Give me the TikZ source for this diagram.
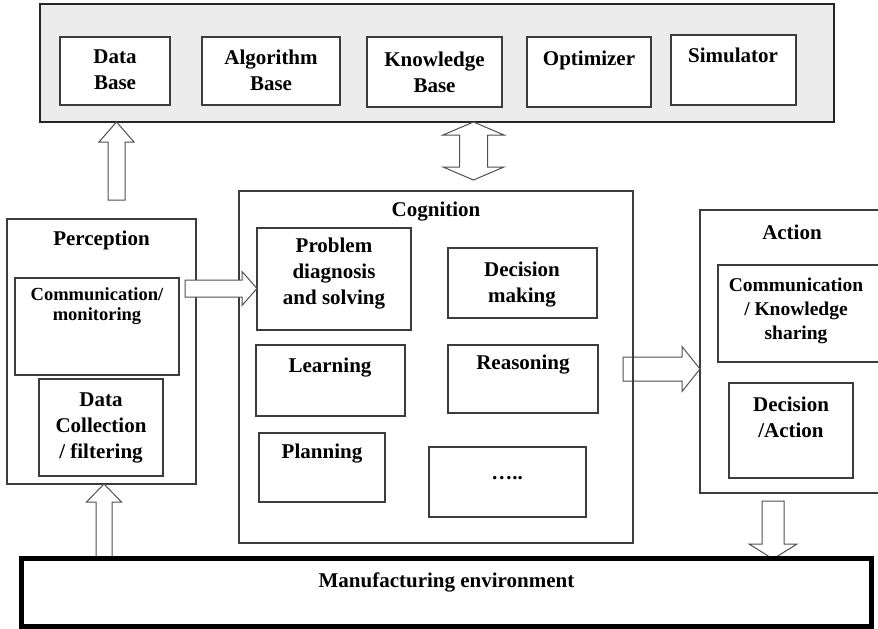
\documentclass[tikz,border=0pt]{standalone}
\usepackage{fontspec}
\setmainfont{Liberation Serif}
\usetikzlibrary{calc,fit}

\definecolor{boxline}{HTML}{3C3C3C}
\definecolor{arrowline}{HTML}{505050}
\definecolor{panel}{HTML}{ECECEC}

\tikzset{
  box/.style={draw=boxline, line width=1.1pt, inner sep=0pt, outer sep=0pt},
  whitebox/.style={box, fill=white},
  panelbox/.style={draw=black!85, line width=1.4pt, fill=panel, inner sep=0pt, outer sep=0pt},
  envbox/.style={draw=black, line width=5pt, inner sep=0pt, outer sep=0pt},
  lbl/.style={font=\bfseries\fontsize{21}{26}\selectfont, align=center, inner sep=0pt},
  smalllbl/.style={font=\bfseries\fontsize{18.5}{20}\selectfont, align=center, inner sep=0pt},
  midlbl/.style={font=\bfseries\fontsize{19.5}{24}\selectfont, align=center, inner sep=0pt},
  barrow/.style={draw=arrowline, line width=1pt, fill=white, line join=miter},
}

% rectangle node spanned by two corners: [style] name x1 y1 x2 y2
\newcommand\bx[6][box]{\node[#1, fit={(#3,#4) (#5,#6)}] (#2) {};}

% hollow block arrow: start, tip, shaft half width, head half width, head length
\newcommand\blockarrow[5]{%
  \coordinate (ba-h) at ($(#2)!#5!(#1)$);
  \draw[barrow] ($(#1)!#3!90:(#2)$) -- ($(ba-h)!#3!90:(#2)$) -- ($(ba-h)!#4!90:(#2)$)
    -- (#2) -- ($(ba-h)!#4!-90:(#2)$) -- ($(ba-h)!#3!-90:(#2)$) -- ($(#1)!#3!-90:(#2)$) -- cycle;}

% hollow block arrow with a head at both ends
\newcommand\dblockarrow[5]{%
  \coordinate (ba-h1) at ($(#1)!#5!(#2)$);
  \coordinate (ba-h2) at ($(#2)!#5!(#1)$);
  \draw[barrow] (#1) -- ($(ba-h1)!#4!90:(#2)$) -- ($(ba-h1)!#3!90:(#2)$)
    -- ($(ba-h2)!#3!90:(#2)$) -- ($(ba-h2)!#4!90:(#2)$) -- (#2)
    -- ($(ba-h2)!#4!-90:(#2)$) -- ($(ba-h2)!#3!-90:(#2)$)
    -- ($(ba-h1)!#3!-90:(#2)$) -- ($(ba-h1)!#4!-90:(#2)$) -- cycle;}

\begin{document}
\begin{tikzpicture}[x=1pt, y=-1pt]
\useasboundingbox (0,0) rectangle (878,629);
\clip (0,0) rectangle (878,629);

% ---- repository panel ----
\bx[panelbox]{bar}{40}{4}{834}{122}
\bx[whitebox]{db}{60}{37}{170}{105}
\bx[whitebox]{ab}{202}{37}{340}{105}
\bx[whitebox]{kb}{367}{37}{502}{107}
\bx[whitebox]{opt}{527}{37}{651}{107}
\bx[whitebox]{sim}{671}{35}{796}{105}
\node[lbl] (db-t)  at (115,70)  {Data\\Base};
\node[lbl] (ab-t)  at (271,70)  {Algorithm\\Base};
\node[lbl] (kb-t)  at (434.5,72) {Knowledge\\Base};
\node[lbl] (opt-t) at (589,60)  {Optimizer};
\node[lbl] (sim-t) at (733,55)  {Simulator};

% ---- connectors ----
\path (116.5,200) coordinate (a1s) (a1s |- bar.south) coordinate (a1e);
\blockarrow{a1s}{a1e}{8.5pt}{17.5pt}{20pt}

\path (473.5,0) coordinate (a2x) (a2x |- bar.south) coordinate (a2a) (473.5,180) coordinate (a2b);
\dblockarrow{a2a}{a2b}{14pt}{30.5pt}{13pt}

% ---- perception ----
\bx{percep}{7}{219}{196}{484}
\bx{comm}{15}{278}{179}{375}
\bx{dcol}{39}{379}{163}{476}
\node[lbl] (percep-t) at (101.5,240) {Perception};
\node[smalllbl] (comm-t) at (97,306) {Communication/\\monitoring};
\node[lbl] (dcol-t) at (101,428) {Data\\Collection\\/ filtering};

% ---- cognition ----
\path (623,369) coordinate (a4s);
\bx{act}{700}{210}{890}{493}
\path (a4s -| act.west) coordinate (a4e);
\blockarrow{a4s}{a4e}{12pt}{22.5pt}{18pt}

\bx{cog}{239}{191}{633}{543}
\bx{prob}{257}{228}{411}{330}
\bx{dec}{448}{248}{597}{318}
\bx{learn}{256}{345}{405}{416}
\bx{reas}{448}{345}{598}{413}
\bx{plan}{259}{433}{385}{502}
\bx{more}{429}{447}{586}{517}
\node[lbl] (cog-t)   at (436,212) {Cognition};
\node[lbl] (prob-t)  at (334,274) {Problem\\diagnosis\\and solving};
\node[lbl] (dec-t)   at (522,285) {Decision\\making};
\node[lbl] (learn-t) at (330,368) {Learning};
\node[lbl] (reas-t)  at (523,365) {Reasoning};
\node[lbl] (plan-t)  at (322,454) {Planning};
\node[lbl, anchor=base] (more-t) at (507,479) {…..};

\path (185,288.5) coordinate (a3s) (a3s -| prob.west) coordinate (a3e);
\blockarrow{a3s}{a3e}{8.5pt}{17pt}{15pt}

% ---- action ----
\bx{acomm}{718}{265}{890}{362}
\bx{dact}{729}{383}{853}{478}
\node[lbl] (act-t)   at (792,232) {Action};
\node[midlbl] (acomm-t) at (796,311) {Communication\\/ Knowledge\\sharing};
\node[lbl] (dact-t)  at (791,417) {Decision\\/Action};

% ---- environment ----
\path (104,0) coordinate (a5x) (104,558.5) coordinate (a5s) (a5x |- percep.south) coordinate (a5e);
\blockarrow{a5s}{a5e}{8pt}{17.5pt}{18pt}
\path (773,501) coordinate (a6s) (773,559) coordinate (a6e);
\blockarrow{a6s}{a6e}{11pt}{24pt}{15pt}

\bx[envbox]{mfg}{21}{558.5}{871.5}{626}
\node[lbl] (mfg-t) at (446.5,582) {Manufacturing environment};
\end{tikzpicture}
\end{document}
